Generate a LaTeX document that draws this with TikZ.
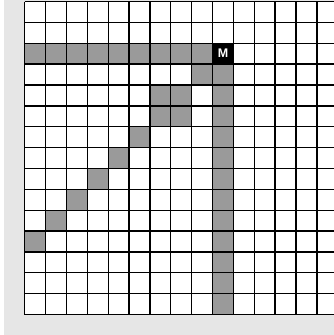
\documentclass[tikz,border=0pt]{standalone}
\usepackage{fontspec}
\setmainfont{Liberation Sans}
\definecolor{shadowgray}{HTML}{E6E6E6}
\definecolor{cellgray}{HTML}{9A9A9A}
\tikzset{
  pathcell/.style={fill=cellgray},
  gridline/.style={line width=1.3pt, black},
}
\begin{document}
\begin{tikzpicture}
\useasboundingbox (0,0) rectangle (334pt,-335pt);
\fill[shadowgray] (4pt,0) rectangle (334pt,-335pt);
\begin{scope}
\clip (0,1pt) rectangle (334pt,-335pt);
\begin{scope}[shift={(24.7pt,-1.5pt)}, x=20.87pt, y=-20.87pt]
  \fill[white] (0,0) rectangle (15,15);
  % horizontal path in row 2
  \foreach \i in {0,...,8} { \fill[pathcell] (\i,2) rectangle ++(1,1); }
  % vertical path in column 9
  \foreach \j in {3,...,14} { \fill[pathcell] (9,\j) rectangle ++(1,1); }
  % diagonal path
  \fill[pathcell] (8,3) rectangle ++(1,1);
  \fill[pathcell] (6,4) rectangle ++(2,2);
  \fill[pathcell] (5,6) rectangle ++(1,1);
  \fill[pathcell] (4,7) rectangle ++(1,1);
  \fill[pathcell] (3,8) rectangle ++(1,1);
  \fill[pathcell] (2,9) rectangle ++(1,1);
  \fill[pathcell] (1,10) rectangle ++(1,1);
  \fill[pathcell] (0,11) rectangle ++(1,1);
  % marked cell
  \fill[black] (9,2) rectangle ++(1,1);
  \node[text=white, font=\bfseries\fontsize{12.5}{12.5}\selectfont, inner sep=0pt] (M) at (9.5,2.5) {M};
  % grid
  \foreach \i in {0,...,15} { \draw[gridline] (\i,0) -- (\i,15); }
  \foreach \j in {0,...,15} { \draw[gridline] (0,\j) -- (15,\j); }
\end{scope}
\end{scope}
\end{tikzpicture}
\end{document}
